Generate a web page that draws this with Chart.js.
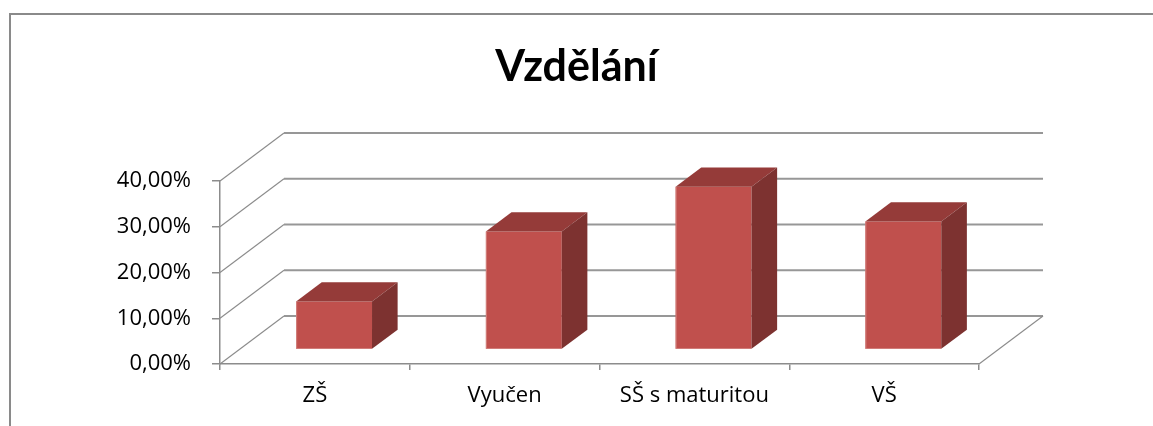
<!DOCTYPE html>
<html>
<head>
<meta charset="utf-8">
<script src="https://cdn.jsdelivr.net/npm/chart.js@4/dist/chart.umd.min.js"></script>
<style>
  html, body { margin: 0; padding: 0; background: #fff; }
  #wrap { position: relative; width: 1153px; height: 426px; overflow: hidden; }
  #frame { position: absolute; left: 9px; top: 13px; width: 1200px; height: 500px;
           border-top: 2px solid #8a8a8a; border-left: 2px solid #8a8a8a; }
  #the-graph { position: absolute; left: 0; top: 0; }
</style>
</head>
<body>
<div id="wrap">
  <div id="frame"></div>
  <canvas id="the-graph" width="1153" height="426"></canvas>
</div>
<script>
var title      = 'Vzdělání';
var categories = ['ZŠ', 'Vyučen', 'SŠ s maturitou', 'VŠ'];
var shares     = [0.105, 0.258, 0.356, 0.280];
var yTicks     = [0, 0.1, 0.2, 0.3, 0.4];

// 3d look: wall depth and where the bars sit inside it
var WALL_DX = 64, WALL_DY = -48;
var BAR_FRONT = 0.3, BAR_DEPTH = 0.4;

var COLORS = {
  front: '#C0504D',
  top:   '#953B39',
  side:  '#7D3230',
  edge:  '#D2807D',
  grid:  '#979797',
  axis:  '#8c8c8c'
};

function pct(v) {
  return (v * 100).toFixed(2).replace('.', ',') + '%';
}

function line(ctx, x1, y1, x2, y2) {
  ctx.beginPath();
  ctx.moveTo(x1, y1);
  ctx.lineTo(x2, y2);
  ctx.stroke();
}

var depth3d = {
  id: 'depth3d',
  beforeDatasetsDraw: function (chart) {
    var ctx = chart.ctx, a = chart.chartArea, y = chart.scales.y;
    ctx.save();
    yTicks.forEach(function (v) {
      var py = y.getPixelForValue(v);
      ctx.strokeStyle = COLORS.axis;
      ctx.lineWidth = 1.2;
      line(ctx, a.left, py, a.left + WALL_DX, py + WALL_DY);
      ctx.strokeStyle = COLORS.grid;
      ctx.lineWidth = 2;
      line(ctx, a.left + WALL_DX, py + WALL_DY, a.right + WALL_DX, py + WALL_DY);
    });
    ctx.strokeStyle = COLORS.axis;
    ctx.lineWidth = 1.2;
    line(ctx, a.right, a.bottom, a.right + WALL_DX, a.bottom + WALL_DY);
    ctx.restore();

    // move the front faces back into the box
    ctx.save();
    ctx.translate(WALL_DX * BAR_FRONT, WALL_DY * BAR_FRONT);
  },
  afterDatasetsDraw: function (chart) {
    var ctx = chart.ctx;
    var dx = WALL_DX * BAR_DEPTH, dy = WALL_DY * BAR_DEPTH;
    chart.getDatasetMeta(0).data.forEach(function (bar) {
      var p = bar.getProps(['x', 'y', 'base', 'width'], true);
      var l = p.x - p.width / 2, r = p.x + p.width / 2;

      ctx.fillStyle = COLORS.top;
      ctx.beginPath();
      ctx.moveTo(l, p.y);
      ctx.lineTo(r, p.y);
      ctx.lineTo(r + dx, p.y + dy);
      ctx.lineTo(l + dx, p.y + dy);
      ctx.closePath();
      ctx.fill();

      ctx.fillStyle = COLORS.side;
      ctx.beginPath();
      ctx.moveTo(r, p.y);
      ctx.lineTo(r + dx, p.y + dy);
      ctx.lineTo(r + dx, p.base + dy);
      ctx.lineTo(r, p.base);
      ctx.closePath();
      ctx.fill();

      // light left edge of the front face
      ctx.strokeStyle = COLORS.edge;
      ctx.lineWidth = 1;
      line(ctx, l + 0.5, p.y, l + 0.5, p.base);
    });
    ctx.restore();
  }
};

var tickFont = { family: '"Open Sans", sans-serif', size: 22 };

var chart = new Chart(document.getElementById('the-graph'), {
  type: 'bar',
  data: {
    labels: categories,
    datasets: [{
      data: shares,
      backgroundColor: COLORS.front,
      borderWidth: 0,
      categoryPercentage: 1,
      barPercentage: 0.4,
      clip: false
    }]
  },
  options: {
    responsive: false,
    animation: false,
    events: [],
    layout: { padding: { left: 0, right: 0, top: 14, bottom: 0 } },
    plugins: {
      legend: { display: false },
      tooltip: { enabled: false },
      title: {
        display: true,
        text: title,
        color: '#000',
        font: { family: 'Lato, sans-serif', size: 43, weight: 'bold', lineHeight: 1.2 },
        padding: { top: 27, bottom: 88.4 }
      }
    },
    scales: {
      x: {
        grid: { offset: true, drawOnChartArea: false, drawTicks: true, tickLength: 6, color: COLORS.axis, lineWidth: 1.5 },
        border: { display: true, color: COLORS.axis, width: 1.5 },
        ticks: { color: '#000', font: tickFont, padding: 13, maxRotation: 0 },
        afterFit: function (s) { s.height = 62; }
      },
      y: {
        min: 0,
        max: 0.4,
        grid: { drawOnChartArea: false, drawTicks: true, tickLength: 8, color: COLORS.axis, lineWidth: 1.5 },
        border: { display: true, color: COLORS.axis, width: 1.5 },
        ticks: {
          color: '#000',
          font: tickFont,
          padding: 21,
          stepSize: 0.1,
          callback: function (v) { return pct(v); }
        },
        afterFit: function (s) { s.width = 220; }
      },
      // empty right-hand space, keeps the plot narrow while the title stays centred on the page
      spacer: {
        type: 'linear',
        position: 'right',
        grid: { display: false },
        border: { display: false },
        ticks: { display: false },
        afterFit: function (s) { s.width = 174; }
      }
    }
  },
  plugins: [depth3d]
});
</script>
</body>
</html>
